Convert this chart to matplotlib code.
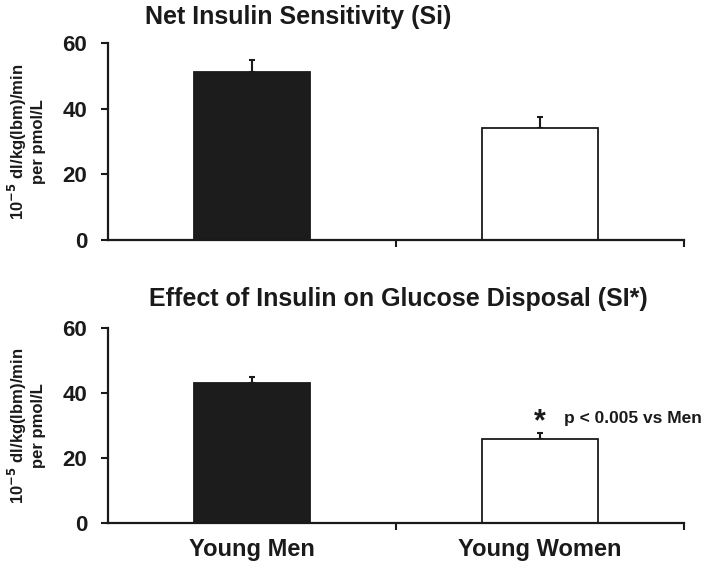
import matplotlib
matplotlib.use("Agg")
import matplotlib.pyplot as plt
import numpy as np

plt.rcParams['font.family'] = ['Liberation Sans', 'DejaVu Sans']
plt.rcParams['font.weight'] = 'bold'

categories = ["Young Men", "Young Women"]
si_values = [51.2, 34.1]
si_err = [3.6, 3.5]
sistar_values = [43.1, 26.0]
sistar_err = [1.8, 1.8]
titles = ["Net Insulin Sensitivity (Si)", "Effect of Insulin on Glucose Disposal (SI*)"]
yticks = [0, 20, 40, 60]
ylabel = "10$^{-5}$ dl/kg(lbm)/min\nper pmol/L"
bar_colors = ["#1c1c1c", "white"]

fig = plt.figure(figsize=(7.08, 5.66), dpi=100)
W, H = 708, 566
def ax_rect(l, t, r, b):
    return [l / W, 1 - b / H, (r - l) / W, (b - t) / H]

ax1 = fig.add_axes(ax_rect(108, 43, 684, 240))
ax2 = fig.add_axes(ax_rect(108, 328, 684, 523))

x = np.arange(len(categories))
ink = "#1a1a1a"
for ax, vals, errs, title, tx, ty in [(ax1, si_values, si_err, titles[0], 298, 17),
                                      (ax2, sistar_values, sistar_err, titles[1], 398, 299)]:
    ax.bar(x, vals, width=0.40, color=bar_colors, edgecolor=ink, linewidth=1.3, zorder=2)
    ax.errorbar(x, vals, yerr=[np.zeros(len(errs)), errs], fmt='none', ecolor=ink,
                elinewidth=1.5, capsize=2.5, capthick=1.5, zorder=1)
    ax.set_xlim(-0.5, 1.5)
    ax.set_ylim(0, 60)
    ax.set_yticks(yticks)
    ax.set_yticklabels([str(v) for v in yticks], fontsize=16, fontweight='bold', color=ink)
    ax.set_xticks(x)
    ax.set_xticks([0.5, 1.5], minor=True)
    ax.tick_params(axis='x', which='major', length=0, pad=11)
    ax.tick_params(axis='x', which='minor', length=5, width=1.5, direction='out', color=ink)
    ax.tick_params(axis='y', length=5, width=1.5, direction='out', color=ink, pad=10)
    for s in ['top', 'right']:
        ax.spines[s].set_visible(False)
    for s in ['left', 'bottom']:
        ax.spines[s].set_linewidth(1.6)
        ax.spines[s].set_color(ink)
    ax.set_ylabel(ylabel, fontsize=12, fontweight='bold', color=ink, linespacing=1.15)
    ax.yaxis.set_label_coords(-0.108, 0.5)
    fig.text(tx / W, 1 - ty / H, title, ha='center', va='center',
             fontsize=18, fontweight='bold', color=ink)

ax1.set_xticklabels([])
ax2.set_xticklabels(categories, fontsize=17, fontweight='bold', color=ink)

ax2.text(1, sistar_values[1] + sistar_err[1] - 1.5, "*", ha='center', va='bottom',
         fontsize=22, fontweight='bold', color=ink)
ax2.text(1.083, sistar_values[1] + sistar_err[1] + 4.3, "p < 0.005 vs Men", ha='left', va='center',
         fontsize=12.5, fontweight='bold', color=ink)

fig.savefig("out.png", dpi=100)
